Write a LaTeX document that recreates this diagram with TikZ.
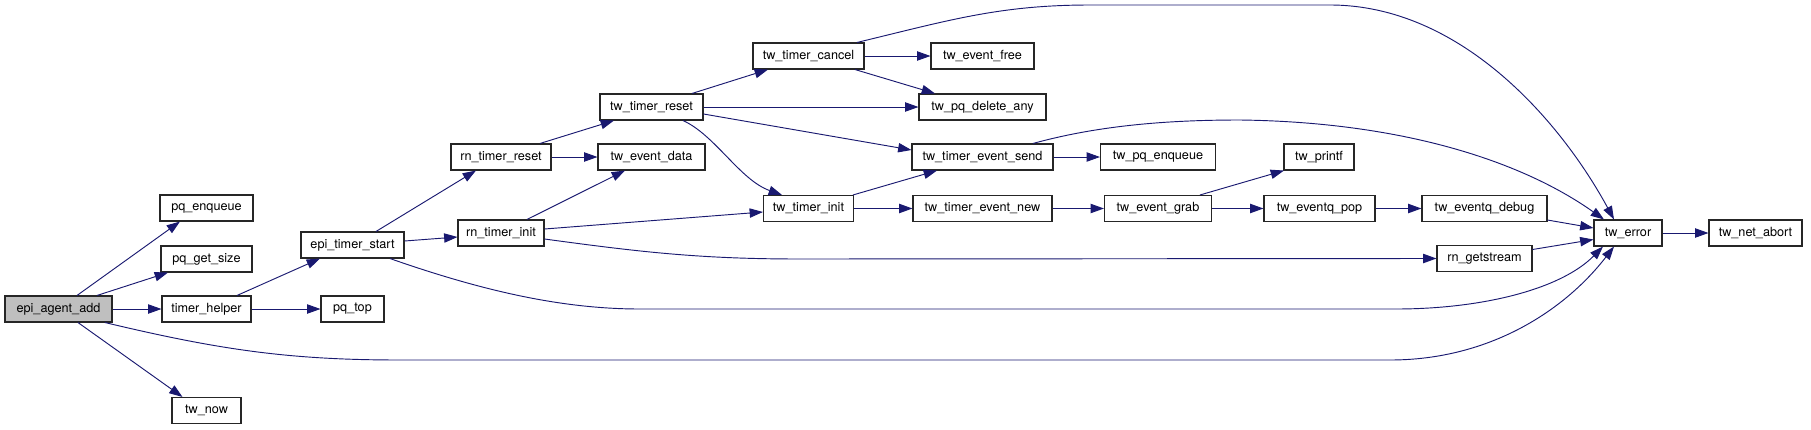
\documentclass[tikz,border=0pt]{standalone}
\usepackage{fontspec}
\setmainfont{TeX Gyre Heros}
\usetikzlibrary{arrows.meta,calc}
\definecolor{navy}{HTML}{191970}
\definecolor{boxgray}{HTML}{BFBFBF}
\tikzset{
  box/.style={draw=black!85, line width=0.8pt, fill=white, inner sep=0pt,
    minimum height=19.5pt, font=\fontsize{9.5}{11}\selectfont},
  bw/.style={minimum width=#1*0.75pt},
  edge/.style={draw=navy, line width=0.7pt, -{Triangle[length=10pt,width=7pt]}},
}
\begin{document}
\begin{tikzpicture}[x=0.75pt,y=-0.75pt]
\useasboundingbox (0,0) rectangle (1811,429);
% nodes
\node[box,bw=107,fill=boxgray] (ea) at (58.5,309) {epi\_agent\_add};
\node[box,bw=93] (pqe) at (206.5,208) {pq\_enqueue};
\node[box,bw=91] (pqg) at (206.5,259) {pq\_get\_size};
\node[box,bw=89] (th) at (206.5,309) {timer\_helper};
\node[box,bw=69] (now) at (206.5,410.5) {tw\_now};
\node[box,bw=103] (ets) at (352.5,245) {epi\_timer\_start};
\node[box,bw=63] (pqt) at (352.5,309) {pq\_top};
\node[box,bw=100] (rtr) at (501,157) {rn\_timer\_reset};
\node[box,bw=86] (rti) at (501,233) {rn\_timer\_init};
\node[box,bw=103] (ttr) at (651.5,107) {tw\_timer\_reset};
\node[box,bw=107] (ted) at (651.5,157) {tw\_event\_data};
\node[box,bw=111] (ttc) at (808.5,56) {tw\_timer\_cancel};
\node[box,bw=90] (tti) at (808.5,208.5) {tw\_timer\_init};
\node[box,bw=103] (tef) at (982.5,56) {tw\_event\_free};
\node[box,bw=127] (tpd) at (982.5,107) {tw\_pq\_delete\_any};
\node[box,bw=141] (tes) at (982.5,157) {tw\_timer\_event\_send};
\node[box,bw=139] (ten) at (982.5,208.5) {tw\_timer\_event\_new};
\node[box,bw=115] (tpe) at (1158,157) {tw\_pq\_enqueue};
\node[box,bw=107] (teg) at (1158,208.5) {tw\_event\_grab};
\node[box,bw=70] (tpf) at (1319,157) {tw\_printf};
\node[box,bw=111] (tep) at (1319.5,208.5) {tw\_eventq\_pop};
\node[box,bw=125] (tqd) at (1484.5,208.5) {tw\_eventq\_debug};
\node[box,bw=95] (rgs) at (1484.5,258.5) {rn\_getstream};
\node[box,bw=68] (err) at (1628,233) {tw\_error};
\node[box,bw=93] (abt) at (1755.5,233) {tw\_net\_abort};
% edges
\draw[edge] ($(ea.north)+(18.5,0)$) -- ($(pqe.south)+(-26.5,0)$);
\draw[edge] ($(ea.north)+(38.5,0)$) -- ($(pqg.south)+(-38.5,0)$);
\draw[edge] (ea.east) -- (th.west);
\draw[edge] ($(ea.south)+(19.5,0)$) -- ($(now.north)+(-24,0)$);
\draw[edge] ($(ea.south)+(46.5,0)$) .. controls (220,350) and (290,360) .. (400,360) -- (1390,360) .. controls (1490,360) and (1565,310) .. ($(err.south)+(-14,0)$);
\draw[edge] ($(th.north)+(30.5,0)$) -- ($(ets.south)+(-32.5,0)$);
\draw[edge] (th.east) -- (pqt.west);
\draw[edge] ($(ets.north)+(23.5,0)$) -- ($(rtr.south)+(-25,0)$);
\draw[edge] ($(ets.east)+(0,-4)$) -- ($(rti.west)+(0,4)$);
\draw[edge] ($(ets.south)+(37.5,0)$) .. controls (480,290) and (560,309) .. (640,309) -- (1396,309) .. controls (1480,309) and (1560,290) .. ($(err.south)+(-25,0)$);
\draw[edge] ($(rtr.north)+(39,0)$) -- ($(ttr.south)+(-37.5,0)$);
\draw[edge] (rtr.east) -- (ted.west);
\draw[edge] ($(rti.north)+(26,0)$) -- ($(ted.south)+(-26.5,0)$);
\draw[edge] ($(rti.east)+(0,-4)$) -- ($(tti.west)+(0,3.5)$);
\draw[edge] ($(rti.east)+(0,6)$) .. controls (640,252) and (700,259) .. (800,259) -- (rgs.west);
\draw[edge] ($(ttr.north)+(40.5,0)$) -- ($(ttc.south)+(-40.5,0)$);
\draw[edge] (ttr.east) -- (tpd.west);
\draw[edge] ($(ttr.east)+(0,7)$) -- ($(tes.west)+(0,-7)$);
\draw[edge] ($(ttr.south)+(31.5,0)$) .. controls (715,135) and (740,180) .. ($(tti.north)+(-26.5,0)$);
\draw[edge] (ttc.east) -- (tef.west);
\draw[edge] ($(ttc.south)+(46.5,0)$) -- ($(tpd.north)+(-47.5,0)$);
\draw[edge] ($(ttc.north)+(48.5,0)$) .. controls (950,20) and (1000,5) .. (1090,5) -- (1330,5) .. controls (1460,5) and (1560,120) .. ($(err.north)+(-14,0)$);
\draw[edge] ($(tti.north)+(44.5,0)$) -- ($(tes.south)+(-45.5,0)$);
\draw[edge] (tti.east) -- (ten.west);
\draw[edge] (tes.east) -- (tpe.west);
\draw[edge] ($(tes.north)+(50.5,0)$) .. controls (1100,125) and (1170,120) .. (1240,120) .. controls (1400,122) and (1520,160) .. ($(err.north)+(-24,0)$);
\draw[edge] (ten.east) -- (teg.west);
\draw[edge] ($(teg.north)+(42,0)$) -- ($(tpf.south)+(-35,0)$);
\draw[edge] (teg.east) -- (tep.west);
\draw[edge] (tep.east) -- (tqd.west);
\draw[edge] ($(tqd.south east)+(0,-2)$) -- ($(err.west)+(0,-5)$);
\draw[edge] ($(rgs.east)+(0,-9)$) -- ($(err.west)+(0,6.5)$);
\draw[edge] (err.east) -- (abt.west);
\end{tikzpicture}
\end{document}
